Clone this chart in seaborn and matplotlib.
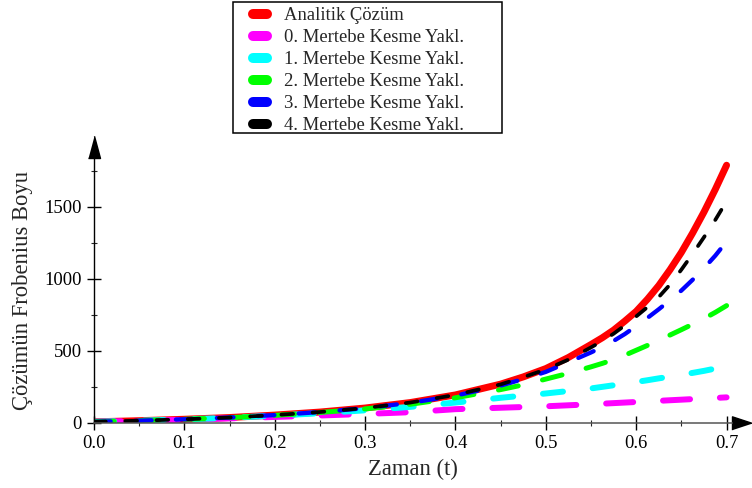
import matplotlib
matplotlib.use('Agg')
import matplotlib.pyplot as plt
import seaborn as sns
from matplotlib.lines import Line2D
from matplotlib.patches import Rectangle
from matplotlib.ticker import MultipleLocator

# time points (finer near the end where the curves bend)
t = [0.0, 0.05, 0.1, 0.15, 0.2, 0.25, 0.3, 0.35, 0.4, 0.45, 0.475,
     0.5, 0.525, 0.55, 0.5625, 0.575, 0.5875, 0.6, 0.6125, 0.625,
     0.6375, 0.65, 0.6625, 0.675, 0.6875, 0.7]

# values
analitik = [8, 16, 26, 38, 55, 76, 104, 142, 195, 270, 320,
            378, 455, 545, 592, 645, 708, 775, 860, 955,
            1065, 1185, 1320, 1465, 1622, 1790]
mertebe0 = [8, 15, 23, 32, 42, 52, 63, 75, 96, 106, 111,
            116, 123, 130, 134, 138, 142, 146, 150, 154,
            158, 162, 166, 170, 174, 178]
mertebe1 = [8, 16, 25, 36, 51, 68, 88, 112, 142, 175, 190,
            205, 222, 240, 251, 262, 273, 285, 297, 310,
            322, 335, 348, 362, 378, 395]
mertebe2 = [8, 16, 26, 37, 53, 73, 98, 130, 175, 232, 265,
            305, 345, 390, 414, 440, 471, 505, 539, 575,
            611, 648, 686, 725, 768, 815]
mertebe3 = [8, 16, 26, 38, 55, 76, 103, 140, 190, 260, 305,
            355, 422, 490, 528, 570, 618, 673, 730, 790,
            853, 920, 995, 1075, 1162, 1260]
mertebe4 = [8, 16, 26, 38, 55, 76, 104, 142, 195, 268, 318,
            372, 440, 525, 570, 620, 678, 740, 805, 875,
            962, 1065, 1175, 1290, 1410, 1540]

labels = ['Analitik Çözüm', '0. Mertebe Kesme Yakl.', '1. Mertebe Kesme Yakl.',
          '2. Mertebe Kesme Yakl.', '3. Mertebe Kesme Yakl.', '4. Mertebe Kesme Yakl.']
colors = ['#ff0000', '#ff00ff', '#00ffff', '#00ff00', '#0000ff', '#000000']
series = [analitik, mertebe0, mertebe1, mertebe2, mertebe3, mertebe4]

# line width (pt) and dash pattern (pt) for each curve
widths = [5.0, 4.3, 4.3, 3.6, 3.1, 2.7]
styles = ['-', (0, (19.5, 21.5)), (0, (14.5, 21.5)), (0, (14.5, 18)),
          (0, (12, 17.5)), (0, (8.5, 14))]

sns.set_style('ticks')
plt.rcParams['font.family'] = ['Liberation Serif', 'DejaVu Serif']
plt.rcParams['lines.scale_dashes'] = False

fig = plt.figure(figsize=(7.52, 4.88), dpi=100)
ax = fig.add_axes([0.125, 0.1332, 0.8484, 0.543])

for y, c, lw, ls in zip(series, colors, widths, styles):
    sns.lineplot(x=t, y=y, ax=ax, color=c, linewidth=lw, linestyle=ls,
                 dash_capstyle='round', solid_capstyle='round')

ax.set_xlim(0, 0.706)
ax.set_ylim(0, 1840)
ax.xaxis.set_major_locator(MultipleLocator(0.1))
ax.xaxis.set_minor_locator(MultipleLocator(0.05))
ax.yaxis.set_major_locator(MultipleLocator(500))
ax.yaxis.set_minor_locator(MultipleLocator(250))
ax.tick_params(which='major', direction='inout', length=9.5, width=1,
               labelsize=13.4, pad=4, colors='black')
ax.tick_params(which='minor', direction='inout', length=5, width=0.8)

sns.despine(ax=ax)
ax.spines['left'].set_color('black')
ax.spines['bottom'].set_color('#555555')
ax.spines['left'].set_linewidth(1)
ax.spines['bottom'].set_linewidth(1.1)

# arrow heads at the ends of the axes
ax.plot([1], [0], marker=[(0, -0.33), (0, 0.33), (1, 0)], ms=29,
        color='black', transform=ax.transAxes, clip_on=False)
ax.plot([0], [1], marker=[(-0.27, 0), (0.27, 0), (0, 1)], ms=32,
        color='black', transform=ax.transAxes, clip_on=False)

ax.set_xlabel('Zaman (t)', fontsize=16.3, labelpad=5)
ax.set_ylabel('Çözümün Frobenius Boyu', fontsize=16.3, labelpad=8)

handles = [Line2D([], [], color=c, lw=7.2, solid_capstyle='round') for c in colors]
fig.legend(handles, labels, loc='upper left',
           bbox_to_anchor=(253 / 752, 1 - 7.0 / 488),
           frameon=False, borderpad=0, borderaxespad=0, handlelength=0.75,
           handletextpad=0.9, labelspacing=0.27, fontsize=13.4)
fig.add_artist(Rectangle((233 / 752, (488 - 133) / 488), 269 / 752, 131 / 488,
                         transform=fig.transFigure, fill=False,
                         edgecolor='black', linewidth=1.1))

fig.savefig('out.png', dpi=100)
